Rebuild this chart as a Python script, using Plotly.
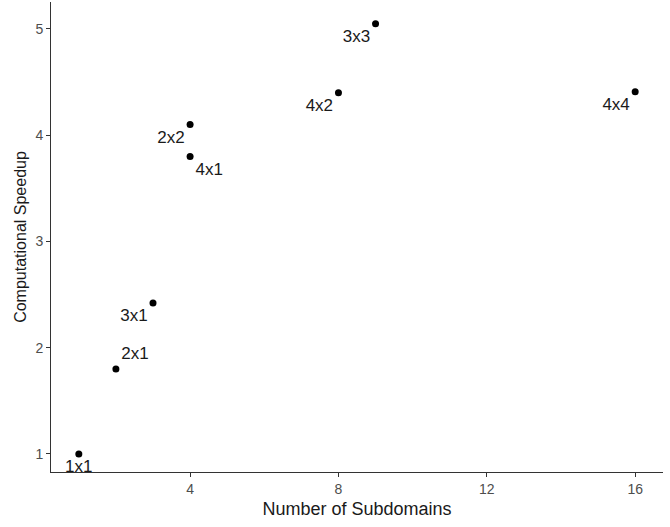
import plotly.graph_objects as go

subdomains = [1, 2, 3, 4, 4, 8, 9, 16]
speedup = [1.0, 1.80, 2.42, 4.10, 3.80, 4.40, 5.05, 4.41]
labels = ["1x1", "2x1", "3x1", "2x2", "4x1", "4x2", "3x3", "4x4"]
label_pos = ["bottom center", "top right", "bottom left", "bottom left",
             "bottom right", "bottom left", "bottom left", "bottom left"]

FONT = "Liberation Sans, Arial, sans-serif"

fig = go.Figure()
fig.add_trace(go.Scatter(
    x=subdomains, y=speedup, mode="markers+text",
    text=labels, textposition=label_pos,
    textfont=dict(family=FONT, size=17, color="#1a1a1a"),
    marker=dict(color="black", size=7),
    cliponaxis=False, hoverinfo="x+y+text",
))

axis_common = dict(
    showgrid=False, zeroline=False, showline=True, linecolor="#333333", linewidth=1,
    ticks="outside", ticklen=4, tickcolor="#333333", tickwidth=1, automargin=False,
    tickfont=dict(family=FONT, size=14, color="#4d4d4d"),
)
fig.update_xaxes(range=[0.25, 16.75], tickvals=[4, 8, 12, 16],
                 title=dict(text="Number of Subdomains", standoff=6,
                            font=dict(family=FONT, size=18, color="#1a1a1a")),
                 **axis_common)
fig.update_yaxes(range=[0.83, 5.254], tickvals=[1, 2, 3, 4, 5],
                 title=dict(text="Computational Speedup", standoff=4,
                            font=dict(family=FONT, size=16, color="#1a1a1a")),
                 **axis_common)
fig.update_layout(
    width=670, height=527, plot_bgcolor="white", paper_bgcolor="white",
    margin=dict(l=51, r=7, t=2, b=55), showlegend=False,
)
fig.write_html("out.html", config={"displayModeBar": False},
               post_script="document.body.style.margin='0';")
